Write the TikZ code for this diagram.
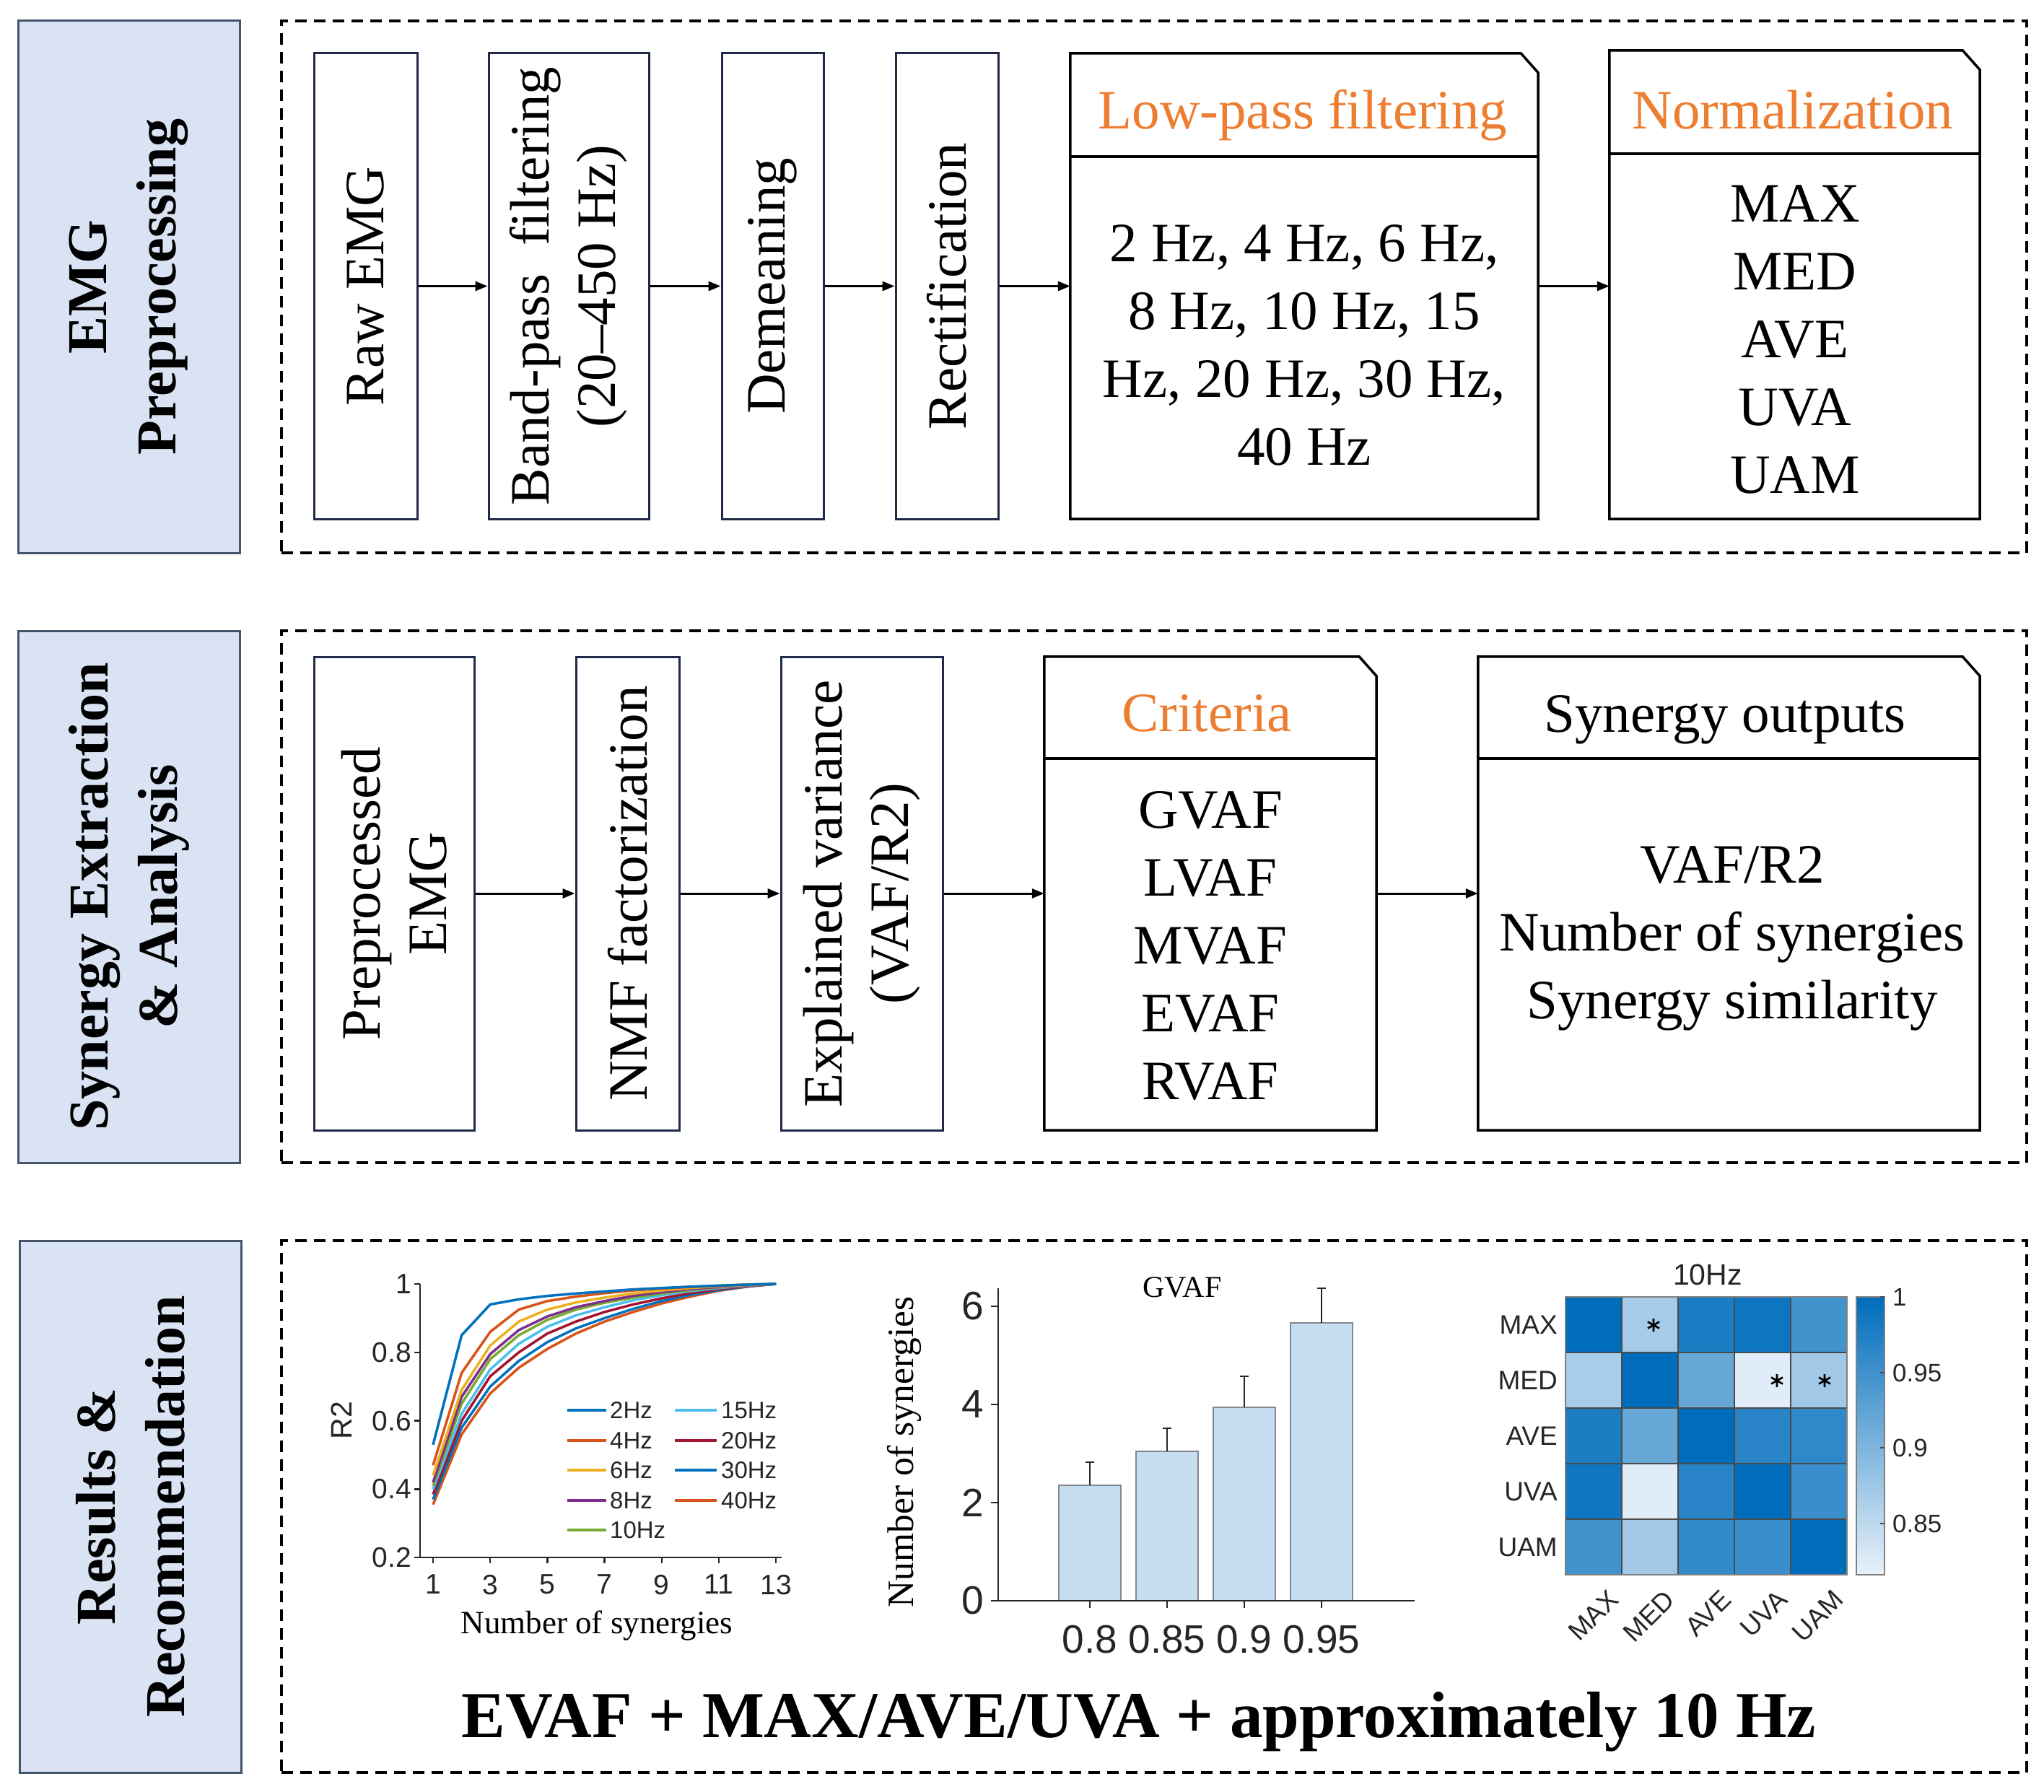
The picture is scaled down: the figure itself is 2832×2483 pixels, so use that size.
\documentclass[tikz,border=0pt]{standalone}
\usepackage{fontspec}
\setmainfont{Liberation Serif}
\newfontfamily\plotfont{Liberation Sans}
\usetikzlibrary{arrows.meta,calc}

\definecolor{labfill}{HTML}{DAE3F3}
\definecolor{labdraw}{HTML}{44546A}
\definecolor{boxdraw}{HTML}{1F2A48}
\definecolor{orangetxt}{HTML}{ED7D31}
\definecolor{axgray}{HTML}{262626}
\definecolor{barfill}{HTML}{C6DDF0}
\definecolor{bardraw}{HTML}{7F8891}
\definecolor{hmlight}{HTML}{E9F2FA}
\definecolor{hmdark}{HTML}{006DBC}
\definecolor{gridgray}{HTML}{4A4A4A}
\definecolor{cA}{HTML}{0072BD}
\definecolor{cB}{HTML}{D95319}
\definecolor{cC}{HTML}{EDB120}
\definecolor{cD}{HTML}{7E2F8E}
\definecolor{cE}{HTML}{77AC30}
\definecolor{cF}{HTML}{4DBEEE}
\definecolor{cG}{HTML}{A2142F}

\newcommand{\myfs}[2]{\fontsize{#1pt}{#2pt}\selectfont}

\tikzset{
  labbox/.style={draw=labdraw, fill=labfill, line width=3pt, minimum width=307pt, minimum height=737pt, inner sep=0pt},
  labtext/.style={rotate=90, align=center, font=\myfs{78}{96}\bfseries, inner sep=0pt},
  frame/.style={draw, dash pattern=on 16pt off 10pt, line width=4pt, minimum height=737pt, minimum width=2418pt, inner sep=0pt},
  stepbox/.style={draw=boxdraw, line width=3pt, inner sep=0pt},
  vtext/.style={rotate=90, align=center, font=\myfs{77}{92}, inner sep=0pt},
  htext/.style={align=center, font=\myfs{77}{94}, inner sep=0pt},
  tabbox/.style={inner sep=0pt},
  tabline/.style={line width=3.5pt, line join=miter},
  flow/.style={-{Triangle[length=17pt,width=13pt]}, line width=3pt},
  axline/.style={draw=axgray, line width=2.5pt},
  curve/.style={line width=3.5pt, line join=round},
  tick/.style={font=\plotfont\myfs{39}{39}, inner sep=0pt, text=axgray},
  legtxt/.style={font=\plotfont\myfs{33}{33}, inner sep=0pt, anchor=west, text=axgray},
  legline/.style={line width=4.5pt},
  bartick/.style={font=\plotfont\myfs{55}{55}, inner sep=0pt, text=axgray},
  hmtxt/.style={font=\plotfont\myfs{37}{37}, inner sep=0pt, text=axgray},
}

\newcommand{\tabshape}[2]{%
  \draw[tabline] (#1.north west) -- ($(#1.north east)+(-24,0)$) -- ($(#1.north east)+(0,27)$) -- (#1.south east) -- (#1.south west) -- cycle;
  \draw[tabline] ($(#1.north west)+(0,#2)$) -- ($(#1.north east)+(0,#2)$);}

\newcommand{\hmcell}[3]{%
  \fill[hmdark!#3!hmlight] ({2169+78*#1},{1797+77*#2}) rectangle ++(78,77);}

\newcommand{\hmstar}[2]{%
  \draw[line width=2.6pt, black] (#1,#2) +(0,-9) -- +(0,9) +(-8,-4.5) -- +(8,4.5) +(-8,4.5) -- +(8,-4.5);}

\begin{document}
\begin{tikzpicture}[x=1pt,y=-1pt]
\useasboundingbox (0,0) rectangle (2832,2483);
\fill[white] (0,0) rectangle (2832,2483);

% ---------------- left labels
\node[labbox] (lab1) at (178.5,397.5) {};
\node[labtext] (lab1t) at (lab1) {EMG\\Preprocessing};
\node[labbox] (lab2) at (178.5,1242.5) {};
\node[labtext] (lab2t) at (lab2) {Synergy Extraction\\\& Analysis};
\node[labbox] (lab3) at (180.5,2087.5) {};
\node[labtext] (lab3t) at (lab3) {Results \&\\Recommendation};

% ---------------- dashed frames
\node[frame] (fr1) at (1599,397.5) {};
\node[frame] (fr2) at (1599,1242.5) {};
\node[frame] (fr3) at (1599,2087.5) {};

% ---------------- row 1
\node[stepbox, minimum width=143pt, minimum height=645pt] (raw) at (506.5,396.5) {};
\node[vtext] (rawt) at (raw) {Raw EMG};
\node[stepbox, minimum width=222pt, minimum height=645pt] (band) at (788,396.5) {};
\node[vtext] (bandt) at (band) {Band-pass\ \ filtering\\(20–450 Hz)};
\node[stepbox, minimum width=141pt, minimum height=645pt] (dem) at (1070.5,396.5) {};
\node[vtext] (demt) at (dem) {Demeaning};
\node[stepbox, minimum width=142pt, minimum height=645pt] (rect) at (1312,396.5) {};
\node[vtext] (rectt) at (rect) {Rectification};

\node[tabbox, minimum width=648pt, minimum height=645pt] (lp) at (1807,396.5) {};
\tabshape{lp}{143}
\node[htext, text=orangetxt] (lph) at (1805,160) {Low-pass filtering};
\node[htext] (lpc) at (1807,478) {2 Hz, 4 Hz, 6 Hz,\\8 Hz, 10 Hz, 15\\Hz, 20 Hz, 30 Hz,\\40 Hz};

\node[tabbox, minimum width=513pt, minimum height=649pt] (norm) at (2486.5,394.5) {};
\tabshape{norm}{143}
\node[htext, text=orangetxt] (normh) at (2484,152) {Normalization};
\node[htext] (normc) at (2487,470) {MAX\\MED\\AVE\\UVA\\UAM};

\draw[flow] (raw) -- (band);
\draw[flow] (band) -- (dem);
\draw[flow] (dem) -- (rect);
\draw[flow] (rect) -- (lp);
\draw[flow] (lp.east) -- (norm.west |- lp.east);

% ---------------- row 2
\node[stepbox, minimum width=222pt, minimum height=656pt] (pre) at (546,1238) {};
\node[vtext] (pret) at (pre) {Preprocessed\\EMG};
\node[stepbox, minimum width=143pt, minimum height=656pt] (nmf) at (869.5,1238) {};
\node[vtext] (nmft) at (nmf) {NMF factorization};
\node[stepbox, minimum width=224pt, minimum height=656pt] (ev) at (1194,1238) {};
\node[vtext] (evt) at (ev) {Explained variance\\(VAF/R2)};

\node[tabbox, minimum width=460pt, minimum height=656pt] (crit) at (1677,1238) {};
\tabshape{crit}{141}
\node[htext, text=orangetxt] (crith) at (1672,988) {Criteria};
\node[htext] (critc) at (1677,1311) {GVAF\\LVAF\\MVAF\\EVAF\\RVAF};

\node[tabbox, minimum width=695pt, minimum height=656pt] (syn) at (2395.5,1238) {};
\tabshape{syn}{141}
\node[htext] (synh) at (2390,997) {Synergy outputs};
\node[htext] (sync) at (2400,1300) {VAF/R2\\Number of synergies\\Synergy similarity};

\draw[flow] (pre) -- (nmf);
\draw[flow] (nmf) -- (ev);
\draw[flow] (ev) -- (crit);
\draw[flow] (crit) -- (syn);

% ---------------- row 3: line chart
\begin{scope}[shift={(560.4,2253)}, x=39.6pt, y=474pt]
  \draw[axline] (0.545,1) -- (0.545,0.2) -- (13.2,0.2);
  \foreach \r/\k in {0.2/a,0.4/b,0.6/c,0.8/d,1/e} {
    \draw[axline] (0.545,\r) -- (0.345,\r);
    \node[tick, anchor=east] (ly\k) at (0.24,\r) {\r};
  }
  \foreach \n in {1,3,5,7,9,11,13} {
    \draw[axline] (\n,0.2) -- (\n,0.183);
    \node[tick, anchor=north] (lx\n) at (\n,0.15) {\n};
  }
  \draw[curve, cB] plot coordinates {(1,0.355) (2,0.56) (3,0.68) (4,0.755) (5,0.81) (6,0.855) (7,0.89) (8,0.918) (9,0.943) (10,0.963) (11,0.98) (12,0.992) (13,1)};
  \draw[curve, cA] plot coordinates {(1,0.37) (2,0.58) (3,0.70) (4,0.775) (5,0.83) (6,0.87) (7,0.90) (8,0.927) (9,0.95) (10,0.968) (11,0.982) (12,0.993) (13,1)};
  \draw[curve, cG] plot coordinates {(1,0.385) (2,0.60) (3,0.73) (4,0.80) (5,0.855) (6,0.89) (7,0.918) (8,0.94) (9,0.958) (10,0.973) (11,0.985) (12,0.994) (13,1)};
  \draw[curve, cF] plot coordinates {(1,0.40) (2,0.62) (3,0.75) (4,0.825) (5,0.875) (6,0.908) (7,0.932) (8,0.952) (9,0.967) (10,0.979) (11,0.988) (12,0.995) (13,1)};
  \draw[curve, cE] plot coordinates {(1,0.41) (2,0.65) (3,0.78) (4,0.85) (5,0.895) (6,0.925) (7,0.945) (8,0.96) (9,0.972) (10,0.982) (11,0.99) (12,0.996) (13,1)};
  \draw[curve, cD] plot coordinates {(1,0.42) (2,0.67) (3,0.795) (4,0.865) (5,0.905) (6,0.932) (7,0.95) (8,0.965) (9,0.976) (10,0.985) (11,0.991) (12,0.996) (13,1)};
  \draw[curve, cC] plot coordinates {(1,0.44) (2,0.69) (3,0.82) (4,0.89) (5,0.925) (6,0.946) (7,0.96) (8,0.972) (9,0.981) (10,0.988) (11,0.993) (12,0.997) (13,1)};
  \draw[curve, cB] plot coordinates {(1,0.47) (2,0.74) (3,0.86) (4,0.925) (5,0.95) (6,0.963) (7,0.973) (8,0.981) (9,0.987) (10,0.991) (11,0.995) (12,0.998) (13,1)};
  \draw[curve, cA] plot coordinates {(1,0.53) (2,0.85) (3,0.94) (4,0.955) (5,0.965) (6,0.972) (7,0.978) (8,0.984) (9,0.988) (10,0.992) (11,0.995) (12,0.998) (13,1)};
\end{scope}
\node[font=\plotfont\myfs{41}{41}, rotate=90, text=axgray, inner sep=0pt] (r2lab) at (473,1968) {R2};
\node[font=\myfs{45}{45}, inner sep=0pt] (nsyn1) at (827,2252) {Number of synergies};
% legend
\foreach \y/\t/\c/\k in {1954/2Hz/cA/a,1996/4Hz/cB/b,2037/6Hz/cC/c,2079/8Hz/cD/d,2120/10Hz/cE/e} {
  \draw[legline, \c] (786,\y) -- (840,\y);
  \node[legtxt] (lg\k) at (845,\y) {\t};
}
\foreach \y/\t/\c/\k in {1954/15Hz/cF/f,1996/20Hz/cG/g,2037/30Hz/cA/h,2079/40Hz/cB/i} {
  \draw[legline, \c] (935,\y) -- (993,\y);
  \node[legtxt] (lg\k) at (999,\y) {\t};
}

% ---------------- row 3: bar chart
\foreach \cx/\h/\e in {1510/160/192,1617/207/239,1724/268/311,1831/385/433} {
  \draw[draw=bardraw, fill=barfill, line width=2pt] ({\cx-43},2218) rectangle ({\cx+43},{2218-\h});
  \draw[axgray, line width=2pt] (\cx,{2218-\h}) -- (\cx,{2218-\e});
  \draw[axgray, line width=2pt] ({\cx-6},{2218-\e}) -- ({\cx+6},{2218-\e});
  \draw[axline] (\cx,2218) -- (\cx,2228);
}
\draw[axline] (1383,1785) -- (1383,2218) -- (1960,2218);
\foreach \v/\k in {0/a,2/b,4/c,6/d} {
  \draw[axline] (1383,{2218-68*\v}) -- (1373,{2218-68*\v});
  \node[bartick, anchor=east] (by\k) at (1363,{2218-68*\v}) {\v};
}
\node[bartick] (bx1) at (1510,2272) {0.8};
\node[bartick] (bx2) at (1617,2272) {0.85};
\node[bartick] (bx3) at (1724,2272) {0.9};
\node[bartick] (bx4) at (1831,2272) {0.95};
\node[font=\myfs{51.5}{51.5}, rotate=90, inner sep=0pt] (nsyn2) at (1253,2012) {Number of synergies};
\node[font=\myfs{42}{42}, inner sep=0pt] (gvaf) at (1638,1784) {GVAF};

% ---------------- row 3: heatmap
\hmcell{0}{0}{100}\hmcell{1}{0}{29}\hmcell{2}{0}{89}\hmcell{3}{0}{94}\hmcell{4}{0}{72}
\hmcell{0}{1}{28}\hmcell{1}{1}{100}\hmcell{2}{1}{56}\hmcell{3}{1}{4}\hmcell{4}{1}{31}
\hmcell{0}{2}{88}\hmcell{1}{2}{56}\hmcell{2}{2}{100}\hmcell{3}{2}{83}\hmcell{4}{2}{80}
\hmcell{0}{3}{93}\hmcell{1}{3}{4}\hmcell{2}{3}{83}\hmcell{3}{3}{100}\hmcell{4}{3}{75}
\hmcell{0}{4}{72}\hmcell{1}{4}{31}\hmcell{2}{4}{78}\hmcell{3}{4}{75}\hmcell{4}{4}{100}
\foreach \i in {1,2,3,4} {
  \draw[gridgray, line width=2pt] ({2169+78*\i},1797) -- ({2169+78*\i},2182);
  \draw[gridgray, line width=2pt] (2169,{1797+77*\i}) -- (2559,{1797+77*\i});
}
\draw[draw=gray, line width=2pt] (2169,1797) rectangle (2559,2182);
\hmstar{2291}{1836}
\hmstar{2462}{1913}
\hmstar{2528}{1913}
\node[font=\plotfont\myfs{41}{41}, inner sep=0pt, text=axgray] (hmt) at (2366,1766) {10Hz};
\foreach \t/\r in {MAX/0,MED/1,AVE/2,UVA/3,UAM/4} {
  \node[hmtxt, anchor=east] (hr\t) at (2158,{1836+77*\r}) {\t};
  \node[hmtxt, anchor=east, rotate=45] (hc\t) at ({2236+78*\r},2210) {\t};
}
% colorbar
\shade[bottom color=hmlight, top color=hmdark] (2572,1797) rectangle (2611,2182);
\draw[draw=gray, line width=2pt] (2572,1797) rectangle (2611,2182);
\foreach \y/\t/\k in {1797/1/a,1902/0.95/b,2006/0.9/c,2111/0.85/d} {
  \draw[gridgray, line width=1.5pt] (2611,\y) -- (2605,\y);
  \node[font=\plotfont\myfs{35}{35}, anchor=west, inner sep=0pt, text=axgray] (cb\k) at (2622,\y) {\t};
}

% ---------------- recommendation
\node[font=\myfs{91}{100}\bfseries, inner sep=0pt] (rec) at (1578,2386) {EVAF + MAX/AVE/UVA + approximately 10 Hz};

\end{tikzpicture}
\end{document}
